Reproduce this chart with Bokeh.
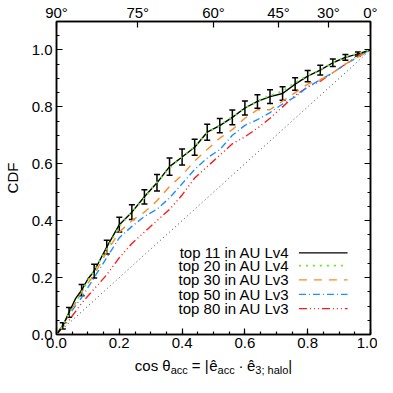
import math
from bokeh.plotting import figure
from bokeh.layouts import column
from bokeh.models import (Range1d, LinearAxis, SingleIntervalTicker, FixedTicker,
                          Whisker, TeeHead, ColumnDataSource, PrintfTickFormatter,
                          CustomJSTickFormatter)
from bokeh.core.properties import value
from bokeh.embed import file_html
from bokeh.resources import INLINE

FONT = "Liberation Sans"

# ---- data ----
black_x = [0.0, 0.02, 0.04, 0.06, 0.08, 0.10, 0.12, 0.16, 0.20, 0.24, 0.28, 0.32, 0.36, 0.40,
           0.44, 0.48, 0.52, 0.56, 0.60, 0.64, 0.68, 0.72, 0.76, 0.80, 0.84, 0.88, 0.92, 0.96, 1.0]
black_y = [0.0, 0.03, 0.078, 0.125, 0.156, 0.195, 0.223, 0.307, 0.386, 0.43, 0.484, 0.533, 0.59, 0.624,
           0.658, 0.711, 0.734, 0.763, 0.796, 0.819, 0.836, 0.847, 0.88, 0.908, 0.929, 0.955, 0.974, 0.986, 1.0]
green_x = black_x
green_y = [0.0, 0.03, 0.075, 0.11, 0.15, 0.19, 0.225, 0.30, 0.38, 0.43, 0.48, 0.535, 0.585, 0.625,
           0.66, 0.71, 0.735, 0.765, 0.795, 0.82, 0.84, 0.855, 0.885, 0.91, 0.93, 0.955, 0.975, 0.988, 1.0]
err_x = [0.02, 0.04, 0.08, 0.12, 0.16, 0.20, 0.24, 0.28, 0.32, 0.36, 0.40, 0.44, 0.48, 0.52,
         0.56, 0.60, 0.64, 0.68, 0.72, 0.76, 0.80, 0.84, 0.88, 0.92, 0.96]
err_size = [0.011, 0.017, 0.02, 0.024, 0.024, 0.026, 0.026, 0.025, 0.029, 0.03, 0.028, 0.028, 0.028, 0.025,
            0.026, 0.025, 0.024, 0.024, 0.024, 0.022, 0.02, 0.017, 0.013, 0.01, 0.007]

grid_x = [0.00, 0.04, 0.08, 0.12, 0.16, 0.20, 0.24, 0.28, 0.32, 0.36, 0.40, 0.44, 0.48, 0.52,
          0.56, 0.60, 0.64, 0.68, 0.72, 0.76, 0.80, 0.84, 0.88, 0.92, 0.96, 1.00]
orange_y = [0.0, 0.07, 0.15, 0.21, 0.29, 0.36, 0.40, 0.43, 0.47, 0.52, 0.56, 0.61, 0.65, 0.69,
            0.72, 0.76, 0.79, 0.79, 0.82, 0.85, 0.88, 0.895, 0.92, 0.95, 0.975, 1.0]
blue_y = [0.0, 0.07, 0.13, 0.20, 0.27, 0.34, 0.38, 0.415, 0.44, 0.48, 0.53, 0.58, 0.62, 0.65,
          0.70, 0.735, 0.755, 0.78, 0.81, 0.835, 0.87, 0.895, 0.92, 0.95, 0.975, 1.0]
red_y = [0.0, 0.05, 0.11, 0.16, 0.21, 0.27, 0.32, 0.36, 0.40, 0.44, 0.49, 0.55, 0.59, 0.63,
         0.67, 0.695, 0.725, 0.76, 0.80, 0.84, 0.87, 0.89, 0.92, 0.95, 0.98, 1.0]
diag_x = [0.0, 1.0]
diag_y = [0.0, 1.0]

legend_labels = ["top 11 in AU Lv4", "top 20 in AU Lv4", "top 30 in AU Lv3",
                 "top 50 in AU Lv3", "top 80 in AU Lv3"]
top_angles = [90, 75, 60, 45, 30, 0]

# x-axis title pieces: (text, is_subscript, advance in px incl. following gap)
xlabel_pieces = [("cos θ", False, 35.9), ("acc", True, 21.0), ("=", False, 13.0),
                 ("|", False, 4.6), ("ê", False, 8.3), ("acc", True, 21.0),
                 ("·", False, 8.4), ("ê", False, 8.3), ("3; halo", True, 33.0), ("|", False, 3.9)]

# ---- styles ----
C_BLACK, C_GREEN, C_ORANGE, C_BLUE, C_RED = "#000000", "#5fef1f", "#ff8a1f", "#1f8fff", "#ff1a1a"
styles = [
    dict(color=C_BLACK, dash="solid", width=1.4),
    dict(color=C_GREEN, dash="2 5", width=1.8),
    dict(color=C_ORANGE, dash="8 7", width=1.4),
    dict(color=C_BLUE, dash="7 3 1 3", width=1.4),
    dict(color=C_RED, dash="8 3 1 3 1 3 1 3", width=1.4),
]

W = 377
LAB_H = 23
BL, BR = 50, 7

p = figure(width=W, height=377 - LAB_H, x_range=Range1d(0, 1), y_range=Range1d(0, 1.1),
           output_backend="svg", toolbar_location=None,
           min_border_left=BL, min_border_right=BR, min_border_top=12, min_border_bottom=20)
p.xgrid.visible = False
p.ygrid.visible = False
p.outline_line_color = "black"
p.outline_line_width = 1.5
p.background_fill_color = "white"
p.border_fill_color = "white"


def style_axis(ax):
    ax.axis_line_color = "black"
    ax.axis_line_width = 1.5
    ax.major_tick_in = 6
    ax.major_tick_out = 0
    ax.minor_tick_in = 3
    ax.minor_tick_out = 0
    ax.major_tick_line_color = "black"
    ax.minor_tick_line_color = "black"
    ax.major_tick_line_width = 1.2
    ax.minor_tick_line_width = 1.2
    ax.major_label_text_font = FONT
    ax.major_label_text_font_size = "15px"
    ax.major_label_text_color = "black"
    ax.major_label_standoff = 4


fmt = PrintfTickFormatter(format="%.1f")
for ax in (p.xaxis[0], p.yaxis[0]):
    ax.ticker = SingleIntervalTicker(interval=0.2, num_minor_ticks=4)
    ax.formatter = fmt
    style_axis(ax)
p.xaxis[0].major_label_standoff = 3
p.yaxis[0].axis_label = "CDF"
p.yaxis[0].axis_label_text_font = FONT
p.yaxis[0].axis_label_text_font_size = "15px"
p.yaxis[0].axis_label_text_font_style = "normal"
p.yaxis[0].axis_label_text_color = "black"
p.yaxis[0].axis_label_standoff = 8

right = LinearAxis(ticker=SingleIntervalTicker(interval=0.2, num_minor_ticks=4),
                   formatter=CustomJSTickFormatter(code="return ''"))
style_axis(right)
right.major_label_standoff = 0
p.add_layout(right, "right")

top_ticks = [math.cos(math.radians(a)) for a in top_angles]
top = LinearAxis(ticker=FixedTicker(ticks=top_ticks, minor_ticks=[]))
style_axis(top)
top.major_label_standoff = 1
top.major_label_overrides = {t: f"{a}°" for t, a in zip(top_ticks, top_angles)}
p.add_layout(top, "above")

# ---- curves ----
p.line(diag_x, diag_y, line_color="#444444", line_width=1, line_dash="1 3")
p.line(grid_x, red_y, line_color=C_RED, line_width=styles[4]["width"], line_dash=styles[4]["dash"])
p.line(grid_x, blue_y, line_color=C_BLUE, line_width=styles[3]["width"], line_dash=styles[3]["dash"])
p.line(grid_x, orange_y, line_color=C_ORANGE, line_width=styles[2]["width"], line_dash=styles[2]["dash"])
p.line(black_x, black_y, line_color=C_BLACK, line_width=styles[0]["width"])
p.line(green_x, green_y, line_color=C_GREEN, line_width=styles[1]["width"], line_dash=styles[1]["dash"])

centers = [black_y[black_x.index(x)] for x in err_x]
src = ColumnDataSource(dict(x=err_x,
                            upper=[c + e for c, e in zip(centers, err_size)],
                            lower=[c - e for c, e in zip(centers, err_size)]))
p.add_layout(Whisker(source=src, base="x", upper="upper", lower="lower",
                     line_color="black", line_width=1.5,
                     upper_head=TeeHead(size=6, line_color="black", line_width=1.5),
                     lower_head=TeeHead(size=6, line_color="black", line_width=1.5)))

# ---- legend (text left, sample line right) ----
leg_text_x = 0.742
leg_line_x0, leg_line_x1 = 0.772, 0.927
leg_rows = [0.287, 0.242, 0.192, 0.141, 0.091]
p.text(x=[leg_text_x] * len(legend_labels), y=leg_rows, text=legend_labels,
       text_align="right", text_baseline="middle", text_font=value(FONT),
       text_font_size="15px", text_color="black")
for row, st in zip(leg_rows, styles):
    p.line([leg_line_x0, leg_line_x1], [row, row], line_color=st["color"],
           line_width=st["width"], line_dash=st["dash"])

# ---- x axis title strip (with subscripts) ----
q = figure(width=W, height=LAB_H, x_range=p.x_range, y_range=Range1d(0, LAB_H),
           output_backend="svg", toolbar_location=None,
           min_border_left=BL, min_border_right=BR, min_border_top=0, min_border_bottom=0,
           x_axis_type=None, y_axis_type=None)
q.xgrid.visible = False
q.ygrid.visible = False
q.outline_line_color = None
q.background_fill_color = "white"
q.border_fill_color = "white"

total = sum(w for _, _, w in xlabel_pieces)
offs, ys, sizes, texts = [], [], [], []
off = -total / 2
for txt, sub, w in xlabel_pieces:
    offs.append(off)
    ys.append(7.5 if sub else 12.0)
    sizes.append("11px" if sub else "15px")
    texts.append(txt)
    off += w
q.text(x=[0.5] * len(texts), y=ys, text=texts, x_offset=offs,
       text_font_size=sizes, text_font=value(FONT), text_align="left",
       text_baseline="alphabetic", text_color="black")

layout = column(p, q, spacing=0)
open("out.html", "w").write(file_html(layout, INLINE))
